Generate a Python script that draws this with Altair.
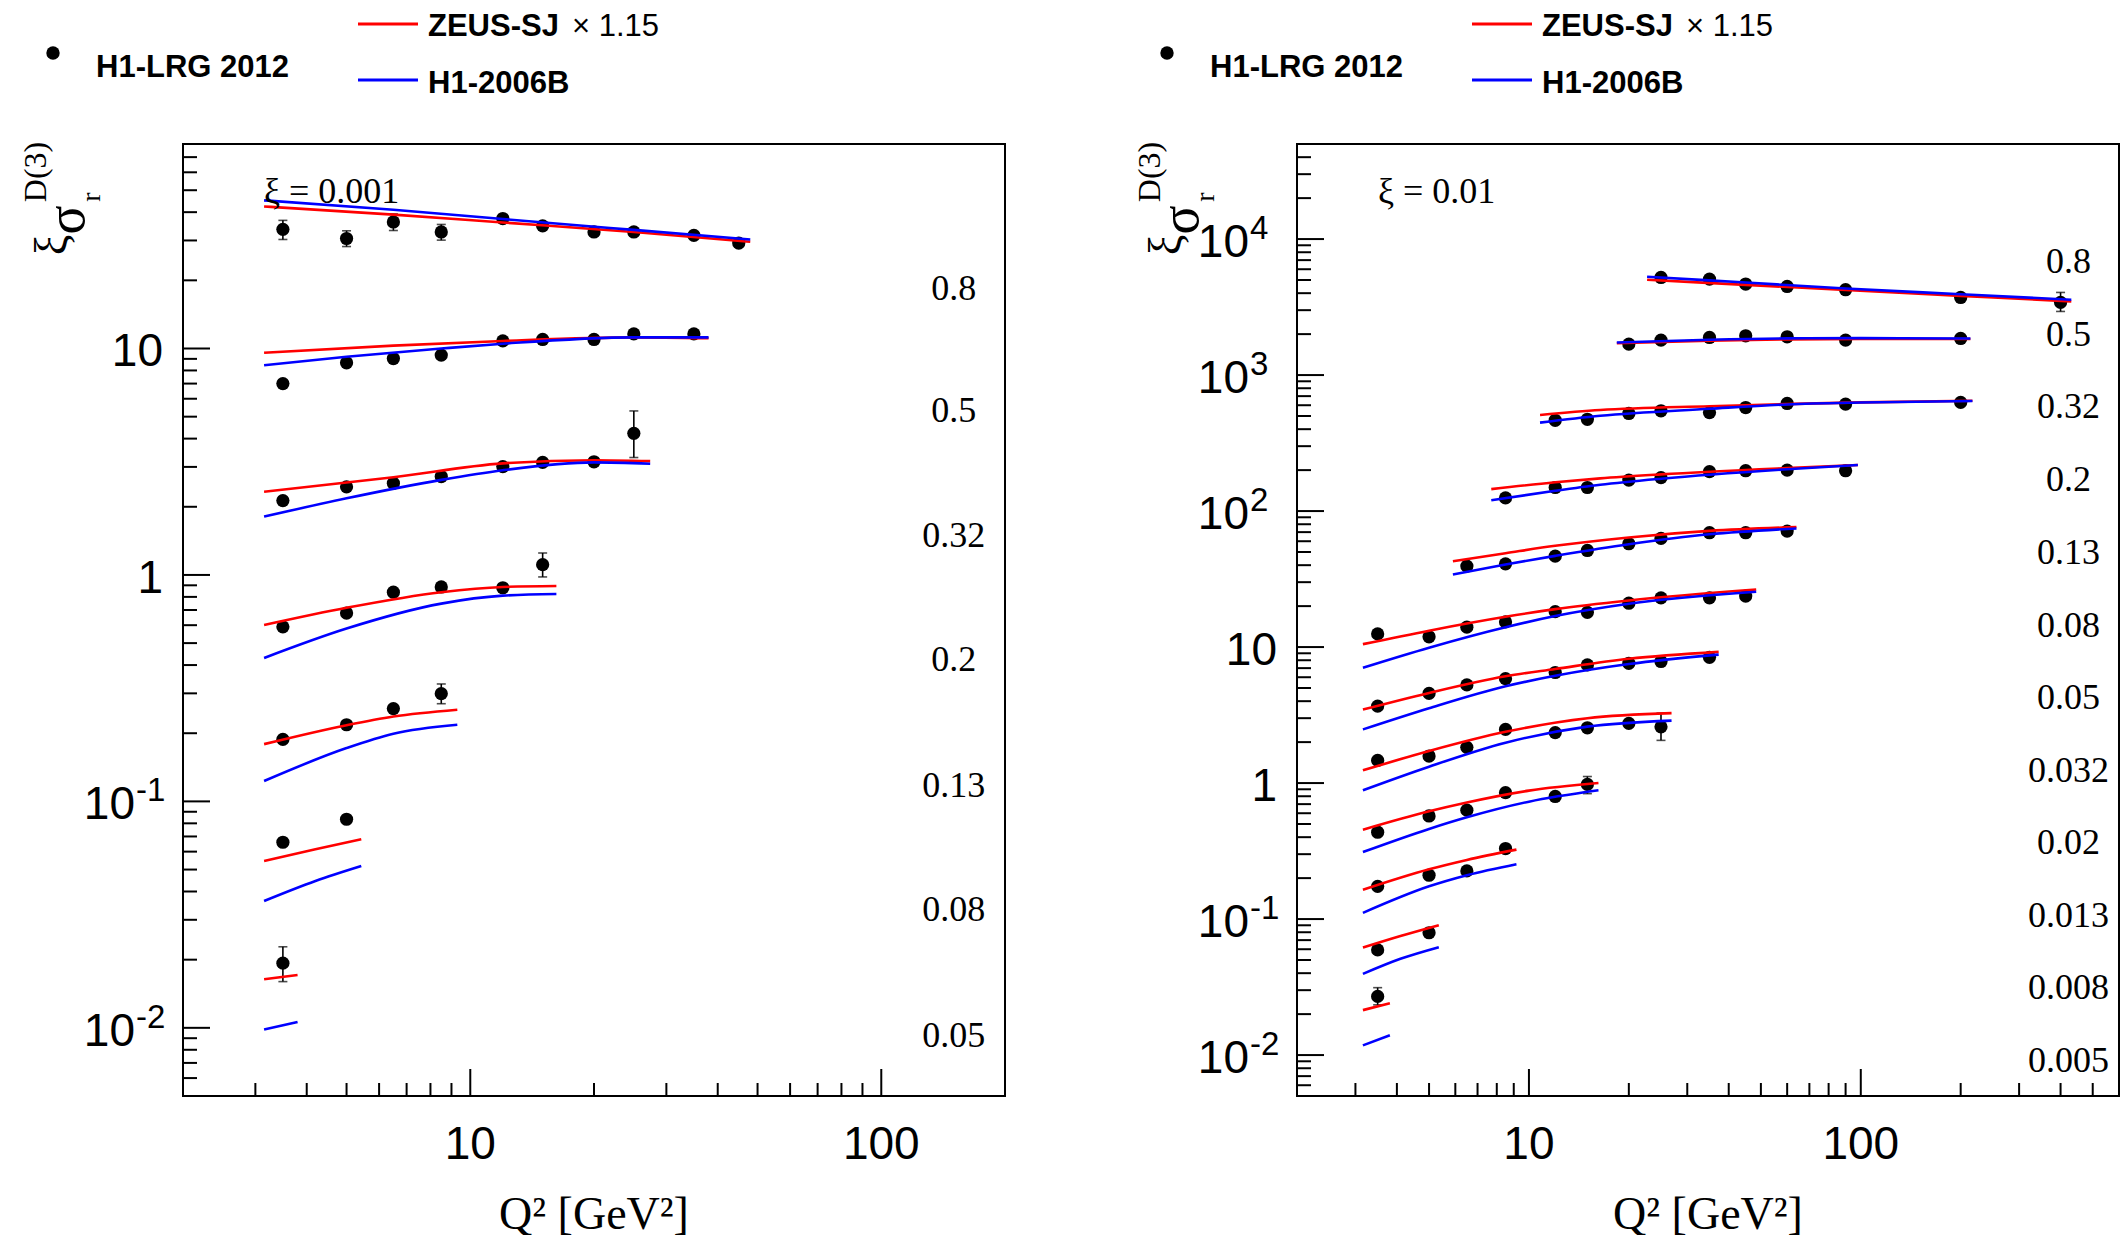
import altair as alt
import pandas as pd

SANS = "Liberation Sans"
SERIF = "Liberation Serif"
RED = "#ff0000"
BLUE = "#0000ff"
W, H = 822, 952

# ---------------- left panel : xi = 0.001 ----------------
P1_XI = "\u03be = 0.001"
P1_XMAX = 200
P1_YMAX = 80
P1_BETA = ["0.8", "0.5", "0.32", "0.2", "0.13", "0.08", "0.05"]
P1_Q2 = [
    [3.5, 5, 6.5, 8.5, 12, 15, 20, 25, 35, 45],
    [3.5, 5, 6.5, 8.5, 12, 15, 20, 25, 35],
    [3.5, 5, 6.5, 8.5, 12, 15, 20, 25],
    [3.5, 5, 6.5, 8.5, 12, 15],
    [3.5, 5, 6.5, 8.5],
    [3.5, 5],
    [3.5],
]
P1_SIGMA = [
    [33.6, 30.6, 36.2, 32.7, 37.5, 34.8, 32.7, 32.7, 31.6, 29.2],
    [7.0, 8.65, 9.03, 9.35, 10.8, 10.96, 10.96, 11.6, 11.6],
    [2.13, 2.45, 2.54, 2.72, 3.01, 3.14, 3.16, 4.22],
    [0.590, 0.679, 0.839, 0.885, 0.878, 1.11],
    [0.188, 0.218, 0.257, 0.299],
    [0.066, 0.0834],
    [0.0193],
]
P1_ERR_BETA = ["0.8", "0.8", "0.8", "0.8", "0.32", "0.2", "0.13", "0.05"]
P1_ERR_Q2 = [3.5, 5, 6.5, 8.5, 25, 15, 8.5, 3.5]
P1_ERR_LO = [30.3, 28.2, 33.2, 30.1, 3.3, 0.98, 0.27, 0.016]
P1_ERR_HI = [36.8, 33.1, 39.3, 35.3, 5.3, 1.25, 0.33, 0.0228]
P1_ZEUS_Q2 = [
    [3.15, 6.5, 12, 25, 48],
    [3.15, 6.5, 12, 25, 38],
    [3.15, 6.5, 12, 20, 27.4],
    [3.15, 5, 8.5, 12, 16.2],
    [3.15, 5, 6.5, 9.3],
    [3.15, 4.2, 5.43],
    [3.15, 3.8],
]
P1_ZEUS = [
    [42.4, 39.0, 36.0, 32.7, 29.6],
    [9.57, 10.3, 10.8, 11.2, 11.1],
    [2.33, 2.70, 3.11, 3.21, 3.18],
    [0.601, 0.716, 0.839, 0.885, 0.894],
    [0.179, 0.217, 0.237, 0.254],
    [0.0546, 0.0615, 0.068],
    [0.0164, 0.0171],
]
P1_H1B_Q2 = [
    [3.15, 6.5, 12, 25, 48],
    [3.15, 5, 8.5, 12, 25, 38],
    [3.15, 5, 8.5, 12, 20, 27.4],
    [3.15, 5, 8.5, 12, 16.2],
    [3.15, 5, 6.5, 9.3],
    [3.15, 4.2, 5.43],
    [3.15, 3.8],
]
P1_H1B = [
    [45.1, 41.0, 37.3, 33.4, 30.3],
    [8.44, 9.19, 10.0, 10.5, 11.2, 11.2],
    [1.81, 2.18, 2.63, 2.90, 3.14, 3.10],
    [0.430, 0.580, 0.747, 0.810, 0.824],
    [0.123, 0.172, 0.199, 0.218],
    [0.0363, 0.0445, 0.0518],
    [0.00983, 0.0106],
]
# where the beta labels sit (data coordinates of the panel)
P1_LABEL_X = 150
P1_LABEL_Y = [18.4, 5.27, 1.48, 0.42, 0.117, 0.0331, 0.0092]
P1_YTICK_VALUES = [10, 1, 0.1, 0.01]
P1_YTICK_BASE = ["10", "1", "10", "10"]
P1_YTICK_EXP = ["", "", "-1", "-2"]

# ---------------- right panel : xi = 0.01 ----------------
P2_XI = "\u03be = 0.01"
P2_XMAX = 600
P2_YMAX = 50000
P2_BETA = ["0.8", "0.5", "0.32", "0.2", "0.13", "0.08", "0.05", "0.032",
           "0.02", "0.013", "0.008", "0.005"]
P2_Q2 = [
    [25, 35, 45, 60, 90, 200, 400],
    [20, 25, 35, 45, 60, 90, 200],
    [12, 15, 20, 25, 35, 45, 60, 90, 200],
    [8.5, 12, 15, 20, 25, 35, 45, 60, 90],
    [6.5, 8.5, 12, 15, 20, 25, 35, 45, 60],
    [3.5, 5, 6.5, 8.5, 12, 15, 20, 25, 35, 45],
    [3.5, 5, 6.5, 8.5, 12, 15, 20, 25, 35],
    [3.5, 5, 6.5, 8.5, 12, 15, 20, 25],
    [3.5, 5, 6.5, 8.5, 12, 15],
    [3.5, 5, 6.5, 8.5],
    [3.5, 5],
    [3.5],
]
P2_SIGMA = [
    [5220, 5080, 4670, 4480, 4240, 3720, 3420],
    [1690, 1808, 1890, 1945, 1912, 1808, 1858],
    [465, 473, 522, 546, 530, 577, 618, 612, 629],
    [125, 149, 149, 169, 176, 195, 198, 200, 198],
    [39.4, 40.9, 46.6, 51.3, 57.5, 63, 69.3, 69.3, 71.2],
    [12.5, 11.9, 14.0, 15.3, 18.2, 18.0, 21.0, 23.0, 23.0, 23.7],
    [3.68, 4.56, 5.27, 5.86, 6.5, 7.39, 7.6, 7.83, 8.4],
    [1.47, 1.58, 1.83, 2.48, 2.35, 2.55, 2.75, 2.59],
    [0.435, 0.573, 0.632, 0.85, 0.797, 0.977],
    [0.174, 0.21, 0.226, 0.33],
    [0.0593, 0.0793],
    [0.027],
]
P2_ERR_BETA = ["0.8", "0.032", "0.02", "0.005"]
P2_ERR_Q2 = [400, 25, 15, 3.5]
P2_ERR_LO = [2936, 2.06, 0.836, 0.0234]
P2_ERR_HI = [4050, 3.27, 1.117, 0.0313]
P2_ZEUS_Q2 = [
    [22.7, 45, 90, 200, 431],
    [18.4, 35, 60, 100, 214],
    [10.8, 16.4, 35, 60, 100, 217],
    [7.7, 12, 16.4, 25, 60, 98],
    [5.9, 8.5, 12, 20, 35, 64],
    [3.16, 5, 8.5, 12, 20, 48.4],
    [3.16, 5, 8.5, 12, 20, 37.3],
    [3.16, 5, 8.5, 15, 26.9],
    [3.16, 5, 6.5, 10, 16.2],
    [3.16, 5, 6.5, 9.17],
    [3.16, 4.1, 5.35],
    [3.16, 3.81],
]
P2_ZEUS = [
    [5021, 4605, 4219, 3822, 3477],
    [1715, 1790, 1830, 1845, 1840],
    [509, 553, 590, 612, 630, 647],
    [145, 163, 174, 186, 207, 218],
    [42.8, 49.0, 55.5, 64.0, 71.5, 76.3],
    [10.5, 13.2, 16.7, 19, 22, 26.5],
    [3.47, 4.6, 6.1, 6.9, 8.2, 9.22],
    [1.24, 1.72, 2.38, 3.0, 3.27],
    [0.454, 0.62, 0.72, 0.88, 1.0],
    [0.164, 0.232, 0.272, 0.324],
    [0.0617, 0.075, 0.0901],
    [0.0214, 0.024],
]
P2_H1B_Q2 = P2_ZEUS_Q2
P2_H1B = [
    [5284, 4788, 4334, 3930, 3578],
    [1736, 1820, 1860, 1868, 1858],
    [447, 502, 565, 608, 628, 645],
    [120, 141, 156, 173, 203, 218],
    [34.2, 40.5, 46.8, 57.0, 67.5, 74.5],
    [7.05, 9.9, 14.0, 16.9, 20.8, 25.5],
    [2.48, 3.55, 5.15, 6.15, 7.5, 8.8],
    [0.886, 1.32, 1.98, 2.6, 2.88],
    [0.311, 0.46, 0.56, 0.73, 0.885],
    [0.111, 0.174, 0.21, 0.253],
    [0.0395, 0.051, 0.0621],
    [0.01178, 0.014],
]
P2_LABEL_X = 423
P2_LABEL_Y = [6753, 1975, 578, 169, 49.4, 14.4, 4.22, 1.235, 0.361, 0.1056,
              0.0309, 0.00903]
P2_YTICK_VALUES = [10000, 1000, 100, 10, 1, 0.1, 0.01]
P2_YTICK_BASE = ["10", "10", "10", "10", "1", "10", "10"]
P2_YTICK_EXP = ["4", "3", "2", "", "", "-1", "-2"]

XTICK_VALUES = [10, 100]
XTICK_TEXT = ["10", "100"]
DECADES = [-3, -2, -1, 0, 1, 2, 3, 4]
MULTS = [2, 3, 4, 5, 6, 7, 8, 9]
YMIN, XMIN = 0.005, 2


def long_df(betas, q2s, vals):
    rows = []
    for b, qs, vs in zip(betas, q2s, vals):
        for q, v in zip(qs, vs):
            rows.append({"beta": b, "q2": q, "v": v})
    return pd.DataFrame(rows)


def one():
    return pd.DataFrame({"a": [0]})


def panel(xi, xmax, ymax, betas, q2, sig, eb, eq, elo, ehi, zq, zv, hq, hv,
          lab_x, lab_y, yt_v, yt_b, yt_e):
    xs = alt.Scale(type="log", domain=[XMIN, xmax], nice=False)
    ys = alt.Scale(type="log", domain=[YMIN, ymax], nice=False)

    def X(f):
        return alt.X(f, type="quantitative", scale=xs, axis=None)

    def Y(f):
        return alt.Y(f, type="quantitative", scale=ys, axis=None)

    ymaj = [10.0 ** e for e in DECADES if YMIN < 10.0 ** e < ymax]
    ymin_ = [round(k * 10.0 ** e, 6) for e in DECADES for k in MULTS
             if YMIN < k * 10.0 ** e < ymax]
    xmaj = [10.0 ** e for e in DECADES if XMIN < 10.0 ** e < xmax]
    xmin_ = [round(k * 10.0 ** e, 6) for e in DECADES for k in MULTS
             if XMIN < k * 10.0 ** e < xmax]

    tick_kw = dict(color="black", strokeWidth=2)
    layers = [
        alt.Chart(pd.DataFrame({"v": ymaj})).mark_rule(**tick_kw).encode(
            y=Y("v"), x=alt.value(0), x2=alt.value(27)),
        alt.Chart(pd.DataFrame({"v": ymin_})).mark_rule(**tick_kw).encode(
            y=Y("v"), x=alt.value(0), x2=alt.value(14)),
        alt.Chart(pd.DataFrame({"v": xmaj})).mark_rule(**tick_kw).encode(
            x=X("v"), y=alt.value(H), y2=alt.value(H - 27)),
        alt.Chart(pd.DataFrame({"v": xmin_})).mark_rule(**tick_kw).encode(
            x=X("v"), y=alt.value(H), y2=alt.value(H - 13)),
    ]

    pts = long_df(betas, q2, sig)
    err = pd.DataFrame({"beta": eb, "q2": eq, "lo": elo, "hi": ehi})
    layers += [
        alt.Chart(pts).mark_circle(size=175, color="black", opacity=1).encode(
            x=X("q2"), y=Y("v")),
        alt.Chart(err).mark_rule(color="black", strokeWidth=1.6).encode(
            x=X("q2"), y=Y("lo"), y2="hi"),
        alt.Chart(err).mark_tick(color="black", orient="horizontal", size=9,
                                 thickness=1.6).encode(x=X("q2"), y=Y("lo")),
        alt.Chart(err).mark_tick(color="black", orient="horizontal", size=9,
                                 thickness=1.6).encode(x=X("q2"), y=Y("hi")),
    ]
    layers += [
        alt.Chart(long_df(betas, zq, zv)).mark_line(
            color=RED, strokeWidth=2.6, interpolate="monotone").encode(
            x=X("q2"), y=Y("v"), detail="beta:N"),
        alt.Chart(long_df(betas, hq, hv)).mark_line(
            color=BLUE, strokeWidth=2.6, interpolate="monotone").encode(
            x=X("q2"), y=Y("v"), detail="beta:N"),
    ]

    labs = pd.DataFrame({"t": betas, "x": [lab_x] * len(betas), "y": lab_y})
    layers.append(
        alt.Chart(labs).mark_text(font=SERIF, fontSize=36, align="center",
                                  baseline="middle", color="black").encode(
            x=X("x"), y=Y("y"), text="t:N"))
    layers.append(
        alt.Chart(one()).mark_text(text=xi, font=SERIF, fontSize=36,
                                   align="left", baseline="alphabetic",
                                   color="black").encode(
            x=alt.value(81), y=alt.value(59)))

    # y tick labels
    yt = pd.DataFrame({"v": yt_v, "b": yt_b, "e": yt_e})
    layers += [
        alt.Chart(yt).transform_filter(alt.datum.e == "").mark_text(
            font=SANS, fontSize=46, align="right", baseline="middle", dy=4,
            color="black").encode(y=Y("v"), x=alt.value(-20), text="b:N"),
        alt.Chart(yt).transform_filter(alt.datum.e != "").mark_text(
            font=SANS, fontSize=46, align="right", baseline="middle", dy=4,
            color="black").encode(y=Y("v"), x=alt.value(-48), text="b:N"),
        alt.Chart(yt).transform_filter(alt.datum.e != "").mark_text(
            font=SANS, fontSize=33, align="left", baseline="middle", dy=-10,
            color="black").encode(y=Y("v"), x=alt.value(-47), text="e:N"),
    ]
    xt = pd.DataFrame({"v": XTICK_VALUES, "t": XTICK_TEXT})
    layers.append(
        alt.Chart(xt).mark_text(font=SANS, fontSize=46, align="center",
                                baseline="middle", color="black").encode(
            x=X("v"), y=alt.value(H + 49), text="t:N"))
    # axis titles
    layers += [
        alt.Chart(one()).mark_text(text="Q\u00b2 [GeV\u00b2]", font=SERIF,
                                   fontSize=46, align="center",
                                   baseline="alphabetic", color="black").encode(
            x=alt.value(W / 2), y=alt.value(H + 133)),
        alt.Chart(one()).mark_text(text="\u03be", font=SERIF, fontSize=46,
                                   angle=270, align="center", baseline="middle",
                                   color="black").encode(
            x=alt.value(-130), y=alt.value(101)),
        alt.Chart(one()).mark_text(text="\u03c3", font=SERIF, fontSize=54,
                                   angle=270, align="center", baseline="middle",
                                   color="black").encode(
            x=alt.value(-115), y=alt.value(76)),
        alt.Chart(one()).mark_text(text="r", font=SERIF, fontSize=28,
                                   angle=270, align="center", baseline="middle",
                                   color="black").encode(
            x=alt.value(-91), y=alt.value(53)),
        alt.Chart(one()).mark_text(text="D(3)", font=SERIF, fontSize=32,
                                   angle=270, align="center", baseline="middle",
                                   color="black").encode(
            x=alt.value(-147), y=alt.value(28)),
    ]
    # legend
    layers += [
        alt.Chart(one()).mark_circle(size=180, color="black", opacity=1).encode(
            x=alt.value(-130), y=alt.value(-91)),
        alt.Chart(one()).mark_text(text="H1-LRG 2012", font=SANS, fontSize=31,
                                   fontWeight="bold", align="left",
                                   baseline="alphabetic", color="black").encode(
            x=alt.value(-87), y=alt.value(-67)),
        alt.Chart(one()).mark_rule(color=RED, strokeWidth=3).encode(
            x=alt.value(175), x2=alt.value(235), y=alt.value(-120)),
        alt.Chart(one()).mark_text(text="ZEUS-SJ", font=SANS, fontSize=31,
                                   fontWeight="bold", align="left",
                                   baseline="alphabetic", color="black").encode(
            x=alt.value(245), y=alt.value(-108)),
        alt.Chart(one()).mark_text(text="\u00d7 1.15", font=SANS, fontSize=31,
                                   align="left", baseline="alphabetic",
                                   color="black").encode(
            x=alt.value(389), y=alt.value(-108)),
        alt.Chart(one()).mark_rule(color=BLUE, strokeWidth=3).encode(
            x=alt.value(175), x2=alt.value(235), y=alt.value(-64)),
        alt.Chart(one()).mark_text(text="H1-2006B", font=SANS, fontSize=31,
                                   fontWeight="bold", align="left",
                                   baseline="alphabetic", color="black").encode(
            x=alt.value(245), y=alt.value(-51)),
    ]
    return alt.layer(*layers).properties(width=W, height=H)


left = panel(P1_XI, P1_XMAX, P1_YMAX, P1_BETA, P1_Q2, P1_SIGMA,
             P1_ERR_BETA, P1_ERR_Q2, P1_ERR_LO, P1_ERR_HI,
             P1_ZEUS_Q2, P1_ZEUS, P1_H1B_Q2, P1_H1B,
             P1_LABEL_X, P1_LABEL_Y, P1_YTICK_VALUES, P1_YTICK_BASE, P1_YTICK_EXP)
right = panel(P2_XI, P2_XMAX, P2_YMAX, P2_BETA, P2_Q2, P2_SIGMA,
              P2_ERR_BETA, P2_ERR_Q2, P2_ERR_LO, P2_ERR_HI,
              P2_ZEUS_Q2, P2_ZEUS, P2_H1B_Q2, P2_H1B,
              P2_LABEL_X, P2_LABEL_Y, P2_YTICK_VALUES, P2_YTICK_BASE, P2_YTICK_EXP)

chart = alt.hconcat(left, right, spacing=292, bounds="flush").properties(
    padding={"left": 19, "top": 10, "right": 0, "bottom": 0},
    background="white",
).configure_view(stroke="black", strokeWidth=2)

chart.save("out.html", embed_options={"renderer": "svg", "actions": False})
